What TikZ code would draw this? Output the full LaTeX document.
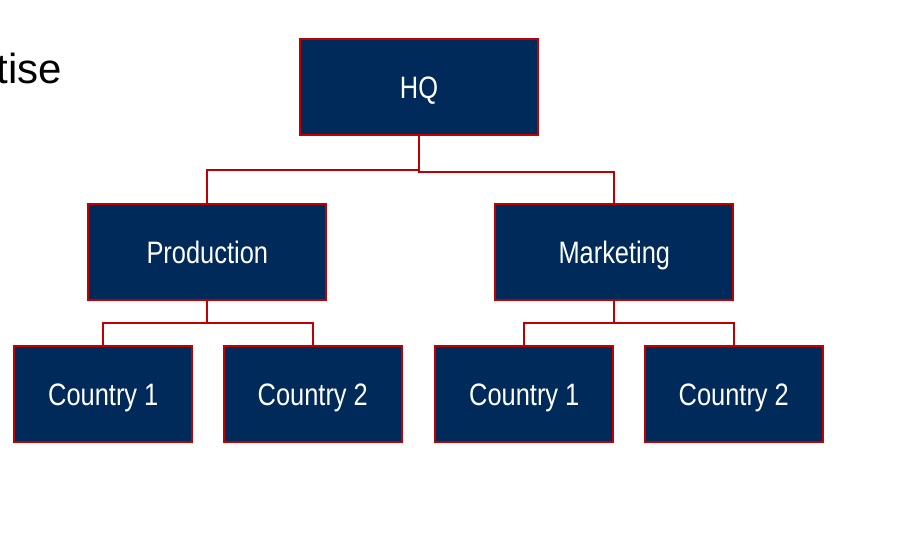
\documentclass[tikz,border=0pt]{standalone}
\usepackage{fontspec}
\setmainfont{Liberation Sans}
\newfontfamily\narrowfont[FakeStretch=0.82]{Liberation Sans}
\definecolor{navy}{HTML}{002A59}
\definecolor{boxred}{HTML}{C00000}
\begin{document}
\begin{tikzpicture}[x=1pt,y=-1pt,
  orgbox/.style={draw=boxred, line width=2pt, fill=navy, text=white,
    inner sep=0pt, minimum height=96pt, text height=22.2pt, text depth=0pt,
    font=\narrowfont\fontsize{31}{31}\selectfont},
  mainbox/.style={orgbox, minimum width=238pt},
  ctrybox/.style={orgbox, minimum width=178pt},
  link/.style={draw=boxred, line width=2pt}]
\useasboundingbox (0,0) rectangle (905,545);
\node[anchor=base east, inner sep=0pt, font=\fontsize{42}{42}\selectfont] (title) at (62.5,84) {tise};
\node[mainbox] (HQ) at (419,87.2) {HQ};
\node[mainbox] (P) at (207.3,252) {Production};
\node[mainbox] (M) at (614.3,252) {Marketing};
\node[ctrybox] (PC1) at (103.3,394.3) {Country 1};
\node[ctrybox] (PC2) at (312.8,394.3) {Country 2};
\node[ctrybox] (MC1) at (524.3,394.3) {Country 1};
\node[ctrybox] (MC2) at (733.8,394.3) {Country 2};
\draw[link] (HQ.south) -- ++(0,34) -| (P.north);
\draw[link] (HQ.south) -- ++(0,35.5) -| (M.north);
\draw[link] (P.south) -- ++(0,22) -| (PC1.north);
\draw[link] (P.south) -- ++(0,22) -| (PC2.north);
\draw[link] (M.south) -- ++(0,22) -| (MC1.north);
\draw[link] (M.south) -- ++(0,22) -| (MC2.north);
\end{tikzpicture}
\end{document}
